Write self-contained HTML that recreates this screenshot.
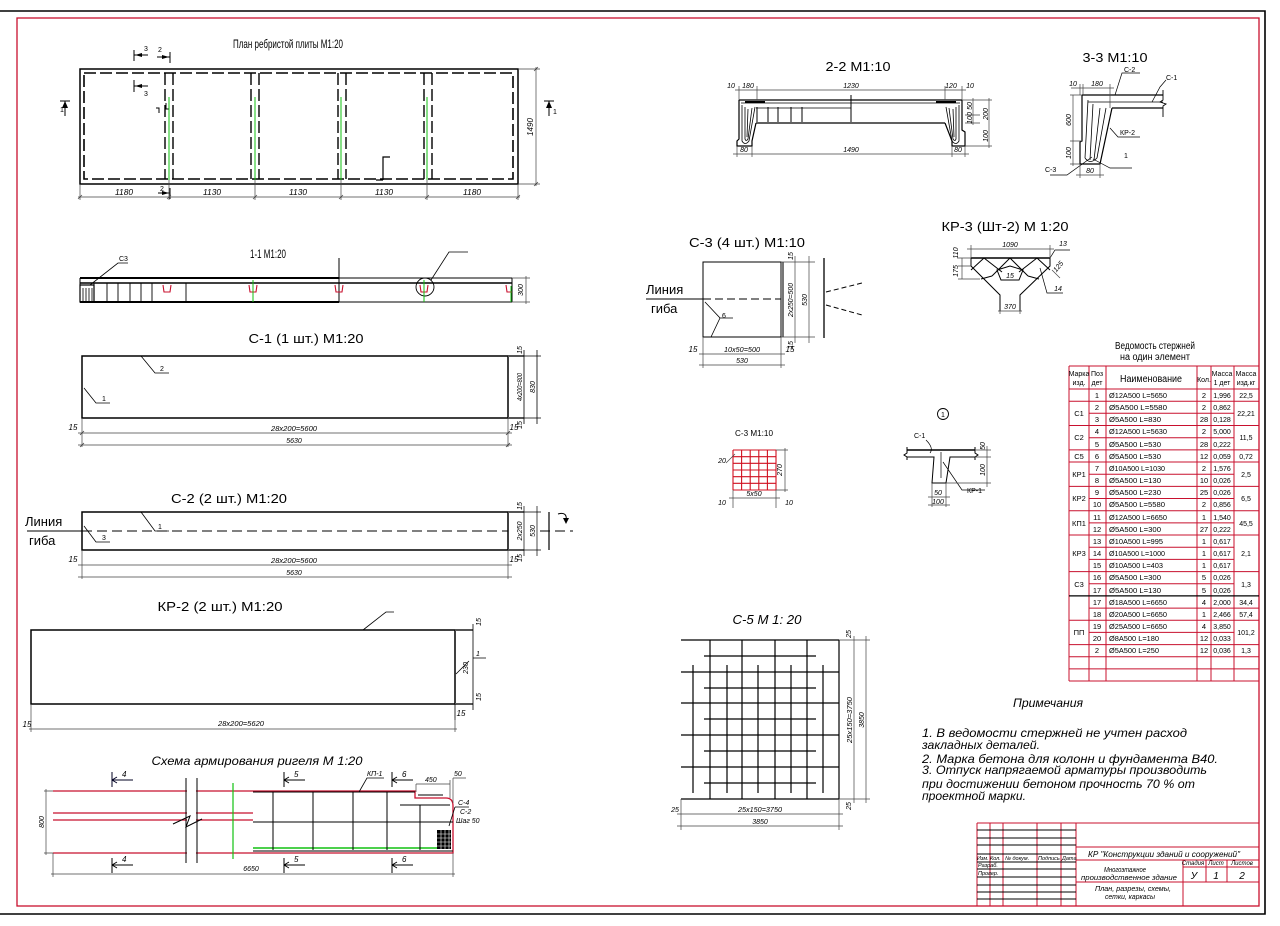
<!DOCTYPE html>
<html><head><meta charset="utf-8"><style>
html,body{margin:0;padding:0;background:#fff;}
svg{display:block}
text{font-family:"Liberation Sans","DejaVu Sans",sans-serif;fill:#000}
.i{font-style:italic}
</style></head><body>
<svg width="1280" height="926" viewBox="0 0 1280 926" xmlns="http://www.w3.org/2000/svg">
<rect width="1280" height="926" fill="#fff"/>
<!-- frames -->
<path d="M0 11H1265V914H0" stroke="#000" stroke-width="1.6" fill="none"/>
<rect x="17" y="18" width="1242" height="888" stroke="#c8102e" stroke-width="1.3" fill="none"/>

<!-- ===== PLAN ===== -->
<text x="288" y="48" font-size="12" text-anchor="middle" textLength="110" lengthAdjust="spacingAndGlyphs">План ребристой плиты М1:20</text>
<g stroke="#000" fill="none">
<rect x="80" y="69" width="438" height="115" stroke-width="1.5"/>
<rect x="84" y="73" width="429" height="106" stroke-width="1.6" stroke-dasharray="12,4"/>
<path d="M165 73V179M173 73V179M251 73V179M259 73V179M338 73V179M346 73V179M424 73V179M432 73V179" stroke-width="1.4" stroke-dasharray="12,4"/>
<path d="M156 108H159V113M166 103V109H169" stroke-width="1"/>
<path d="M383 180V157H390M376 180H383" stroke-width="1.2"/>
<!-- section marks -->
<path d="M60 101H70M65 101V116M544 101H554M549 101V116" stroke-width="1"/>
<path d="M134 50V61M134 55H148M170 52V63M157 57H170M134 80V92M134 86H148M170 188V199M158 193H170" stroke-width="1"/>
</g>
<g fill="#000">
<path d="M65 101L62 108H68Z"/><path d="M549 101L546 108H552Z"/>
<path d="M135 55L142 53V57Z"/><path d="M169 57L162 55V59Z"/><path d="M135 86L142 84V88Z"/><path d="M169 193L162 191V195Z"/>
</g>
<g font-size="7"><text x="60" y="112">1</text><text x="553" y="114">1</text><text x="144" y="51">3</text><text x="158" y="52">2</text><text x="144" y="96">3</text><text x="160" y="191">2</text></g>
<path d="M169 97V180M255 97V180M341 97V180M427 97V180" stroke="#10c010" stroke-width="1"/>
<g stroke="#444" stroke-width="0.7" fill="none">
<path d="M80 184V200M169 180V200M255 180V200M341 180V200M427 180V200M518 184V200M78 197H520"/>
<path d="M78 199L82 195M167 199L171 195M253 199L257 195M339 199L343 195M425 199L429 195M516 199L520 195"/>
<path d="M518 69H540M518 184H540M536 67V186M534 71L538 67M534 186L538 182"/>
</g>
<g font-size="8" class="i" text-anchor="middle">
<text x="124" y="195" textLength="18" lengthAdjust="spacingAndGlyphs">1180</text>
<text x="212" y="195" textLength="18" lengthAdjust="spacingAndGlyphs">1130</text>
<text x="298" y="195" textLength="18" lengthAdjust="spacingAndGlyphs">1130</text>
<text x="384" y="195" textLength="18" lengthAdjust="spacingAndGlyphs">1130</text>
<text x="472" y="195" textLength="18" lengthAdjust="spacingAndGlyphs">1180</text>
<text transform="translate(533,127) rotate(-90)">1490</text>
</g>

<!-- ===== SECTION 1-1 ===== -->
<text x="268" y="258" font-size="12" text-anchor="middle" textLength="36" lengthAdjust="spacingAndGlyphs">1-1 М1:20</text>
<g stroke="#000" fill="none">
<path d="M80 278H339M80 302H339" stroke-width="2"/>
<path d="M339 278H512M339 302H512" stroke-width="1"/>
<path d="M80 283H512" stroke-width="1.5"/>
<path d="M80 278V302M512 278V302M339 258V302" stroke-width="1"/>
<path d="M94 283V302M107 283V302M118 283V302M130 283V302M141 283V302M152 283V302M186 283V302" stroke-width="0.9"/>
<rect x="80" y="285" width="14" height="17" stroke-width="1.2"/>
<path d="M83 288V302M86 288V302M89 288V302M92 288V302" stroke-width="0.8"/>
<circle cx="425" cy="287" r="9" stroke-width="0.9"/>
<path d="M431 280L449 252H468M90 285L118 263H128" stroke-width="0.8"/>
</g>
<g stroke="#c8102e" fill="none" stroke-width="1.1">
<path d="M163 285L164 292H170L171 285M249 285L250 292H256L257 285M335 285L336 292H342L343 285M420 285L421 292H427L428 285M506 285L507 292H512"/>
</g>
<path d="M253 280V302M424 280V302M511 286V302" stroke="#10c010" stroke-width="1"/>
<g stroke="#444" stroke-width="0.7" fill="none"><path d="M512 278H530M512 302H530M526 276V304"/></g>
<text x="119" y="261" font-size="7">С3</text>
<text transform="translate(523,290) rotate(-90)" font-size="7" text-anchor="middle" class="i">300</text>

<!-- ===== C-1 ===== -->
<text x="306" y="343" font-size="13" text-anchor="middle" textLength="115" lengthAdjust="spacingAndGlyphs">С-1 (1 шт.) М1:20</text>
<rect x="82" y="356" width="426" height="62" stroke="#000" stroke-width="1.5" fill="none"/>
<g stroke="#000" fill="none" stroke-width="0.8">
<path d="M508 356H524M508 418H524" stroke-width="2" stroke="#555"/>
<path d="M524 356H541M524 418H541M524 350V424M537 350V424"/>
<path d="M141 356L155 373H169M84 388L96 403H110"/>
<path d="M82 418V447M508 418V447M78 433H512M78 445H512" stroke="#444" stroke-width="0.7"/>
<path d="M80 435L84 431M506 435L510 431M80 447L84 443M506 447L510 443" stroke="#444"/>
</g>
<g font-size="7"><text x="160" y="371">2</text><text x="102" y="401">1</text></g>
<g font-size="7" class="i" text-anchor="middle">
<text transform="translate(522,350) rotate(-90)">15</text>
<text transform="translate(522,387) rotate(-90)" textLength="28" lengthAdjust="spacingAndGlyphs">4x200=800</text>
<text transform="translate(535,387) rotate(-90)">830</text>
<text transform="translate(522,425) rotate(-90)">15</text>
<text x="73" y="430" font-size="8">15</text>
<text x="514" y="430" font-size="8">15</text>
<text x="294" y="431" textLength="46" lengthAdjust="spacingAndGlyphs">28x200=5600</text>
<text x="294" y="443">5630</text>
</g>

<!-- ===== C-2 ===== -->
<text x="229" y="503" font-size="13" text-anchor="middle" textLength="116" lengthAdjust="spacingAndGlyphs">С-2 (2 шт.) М1:20</text>
<rect x="82" y="512" width="426" height="38" stroke="#000" stroke-width="1.5" fill="none"/>
<g stroke="#000" fill="none" stroke-width="0.9">
<path d="M27 531H82"/>
<path d="M82 531H508M540 531H573" stroke-dasharray="10,5"/>
<path d="M508 512H524M508 550H524" stroke-width="2" stroke="#555"/>
<path d="M524 512H541M524 550H541M524 506V556M537 506V556" stroke-width="0.7"/>
<path d="M549 512V550" stroke-width="1.2"/>
<path d="M558 514Q568 511 566 522" stroke-width="1"/>
<path d="M141 512L155 531H169M84 526L96 542H110" stroke-width="0.8"/>
<path d="M82 550V579M508 550V579M78 565H512M78 577H512" stroke="#444" stroke-width="0.7"/>
</g>
<path d="M566 524L563 518H569Z" fill="#000"/>
<text x="25" y="526" font-size="13">Линия</text>
<text x="29" y="545" font-size="13">гиба</text>
<g font-size="7"><text x="158" y="529">1</text><text x="102" y="540">3</text></g>
<g font-size="7" class="i" text-anchor="middle">
<text transform="translate(522,506) rotate(-90)">15</text>
<text transform="translate(522,531) rotate(-90)">2x250</text>
<text transform="translate(535,531) rotate(-90)">530</text>
<text transform="translate(522,558) rotate(-90)">15</text>
<text x="73" y="562" font-size="8">15</text>
<text x="514" y="562" font-size="8">15</text>
<text x="294" y="563" textLength="46" lengthAdjust="spacingAndGlyphs">28x200=5600</text>
<text x="294" y="575">5630</text>
</g>

<!-- ===== KP-2 ===== -->
<text x="220" y="611" font-size="13" text-anchor="middle" textLength="125" lengthAdjust="spacingAndGlyphs">КР-2 (2 шт.) М1:20</text>
<rect x="31" y="630" width="424" height="74" stroke="#000" stroke-width="1.5" fill="none"/>
<g stroke="#000" fill="none" stroke-width="0.8">
<path d="M455 630H473M455 704H473" stroke-width="2" stroke="#555"/>
<path d="M473 624V710M455 704V720"/>
<path d="M363 630L386 612H394M473 658H486M456 674L469 661"/>
<path d="M31 704V732M455 718V732M29 729H457" stroke="#444" stroke-width="0.7"/>
</g>
<g font-size="7" class="i" text-anchor="middle">
<text transform="translate(481,622) rotate(-90)">15</text>
<text transform="translate(468,668) rotate(-90)">230</text>
<text transform="translate(481,697) rotate(-90)">15</text>
<text x="478" y="656">1</text>
<text x="461" y="716" font-size="8">15</text>
<text x="27" y="727" font-size="8">15</text>
<text x="241" y="726" textLength="46" lengthAdjust="spacingAndGlyphs">28x200=5620</text>
</g>

<!-- ===== SCHEMA ===== -->
<text x="257" y="765" font-size="12" class="i" text-anchor="middle" textLength="211" lengthAdjust="spacingAndGlyphs">Схема армирования ригеля М 1:20</text>
<g fill="none">
<path d="M53 791H415V798H446Q453 798 453 806V853H53" stroke="#c8102e" stroke-width="1.3"/>
<path d="M53 813H253M53 820H253" stroke="#c8102e" stroke-width="1.3"/>
<path d="M253 792H415M253 822H453M253 851H453M418 795H443M400 805H450" stroke="#000" stroke-width="1"/>
<path d="M253 848H447" stroke="#10c010" stroke-width="1.4"/>
<path d="M273 792V850M313 792V850M353 792V850M387 792V850M420 805V850" stroke="#000" stroke-width="1"/>
<path d="M233 783V859" stroke="#10c010" stroke-width="1.2"/>
<rect x="187" y="776" width="9" height="89" fill="#fff" stroke="none"/>
<path d="M186 778V863M197 778V863M173 824L190 816L186 827L202 819" stroke="#000" stroke-width="1"/>
</g>
<rect x="437" y="830" width="14" height="19" fill="#000"/>
<path d="M437 834H451M437 838H451M437 842H451M437 846H451M441 830V849M445 830V849M449 830V849" stroke="#fff" stroke-width="0.6"/>
<g stroke="#000" fill="none" stroke-width="1">
<path d="M112 772V787M112 780H133M112 780L117 777M112 780L117 783" stroke="#002"/>
<path d="M112 858V873M112 865H133M112 865L117 862M112 865L117 868"/>
<path d="M284 772V787M284 780H305M284 780L289 777M284 780L289 783"/>
<path d="M284 858V873M284 865H305M284 865L289 862M284 865L289 868"/>
<path d="M392 772V787M392 780H413M392 780L397 777M392 780L397 783"/>
<path d="M392 858V873M392 865H413M392 865L397 862M392 865L397 868"/>
<path d="M359 792L367 778H384M455 807H469M449 826L455 807" stroke-width="0.8"/>
<path d="M416 784H450M416 784V792M450 780V798M453 778H466M453 778V803" stroke="#444" stroke-width="0.7"/>
<path d="M44 791H53M44 853H53M46 789V855M53 853V877M453 853V877M51 874H455" stroke="#444" stroke-width="0.7"/>
</g>
<g font-size="8" class="i">
<text x="122" y="777">4</text><text x="122" y="862">4</text>
<text x="294" y="777">5</text><text x="294" y="862">5</text>
<text x="402" y="777">6</text><text x="402" y="862">6</text>
<text x="367" y="776" font-size="7">КП-1</text>
<text x="425" y="782" font-size="7">450</text>
<text x="454" y="776" font-size="7">50</text>
<text x="458" y="805" font-size="7">С-4</text>
<text x="460" y="814" font-size="7">С-2</text>
<text x="456" y="823" font-size="7">Шаг 50</text>
<text x="251" y="871" font-size="7" text-anchor="middle">6650</text>
<text transform="translate(44,822) rotate(-90)" font-size="7" text-anchor="middle">800</text>
</g>

<!-- ===== 2-2 ===== -->
<text x="858" y="71" font-size="13" text-anchor="middle" textLength="65" lengthAdjust="spacingAndGlyphs">2-2 М1:10</text>
<g stroke="#000" fill="none" stroke-width="1.2">
<path d="M739 100H962"/>
<path d="M741 103H960M756 108H851" stroke-width="0.8"/>
<path d="M756 123H945"/>
<path d="M739 100V139L737 141V146H752V141L756 123"/>
<path d="M962 100V130L965 132V146H952V141L945 123"/>
<path d="M745 102H765M936 102H956" stroke-width="2"/>
<path d="M742 105V141Q745 146 749 141L755 107M745 107V139Q746 142 748 139L752 108M748 109L747 137" stroke-width="0.8"/>
<path d="M959 105V141Q956 146 952 141L946 107M956 107V139Q955 142 953 139L949 108M953 109L954 137" stroke-width="0.8"/>
<path d="M757 107V122M768 107V122M778 107V122M791 107V122M802 107V122M851 95V122" stroke-width="1"/>
</g>
<g stroke="#444" stroke-width="0.7" fill="none">
<path d="M735 90H966M739 86V100M757 86V100M945 86V100M962 86V100"/>
<path d="M962 100H992M965 123H980M965 115H980M965 146H992M973 98V125M989 98V148"/>
<path d="M737 146V157M752 146V157M952 146V157M965 146V157M733 154H969"/>
</g>
<g font-size="7" class="i" text-anchor="middle">
<text x="731" y="88">10</text><text x="748" y="88">180</text><text x="851" y="88">1230</text><text x="951" y="88">120</text><text x="970" y="88">10</text>
<text transform="translate(972,106) rotate(-90)">50</text>
<text transform="translate(972,118) rotate(-90)">100</text>
<text transform="translate(988,114) rotate(-90)">200</text>
<text transform="translate(988,136) rotate(-90)">100</text>
<text x="744" y="152">80</text><text x="851" y="152">1490</text><text x="958" y="152">80</text>
</g>

<!-- ===== 3-3 ===== -->
<text x="1115" y="62" font-size="13" text-anchor="middle" textLength="65" lengthAdjust="spacingAndGlyphs">3-3 М1:10</text>
<g stroke="#000" fill="none" stroke-width="1.2">
<path d="M1082 95H1163M1112 108H1163"/>
<path d="M1088 102H1163" stroke-width="0.8"/>
<path d="M1082 95V141L1080 142V164H1100L1112 108"/>
<path d="M1163 90V100L1160 102L1166 104L1163 106V117" stroke-width="0.9"/>
<path d="M1088 100L1085 158M1093 104L1090 160M1100 108L1094 160M1106 108L1097 158M1085 158Q1090 165 1097 158" stroke-width="0.8"/>
<path d="M1115 95L1122 73H1140M1152 102L1160 87L1166 80M1110 128L1118 137H1140M1092 157L1067 175H1050M1093 159L1110 168H1132" stroke-width="0.7"/>
</g>
<g stroke="#444" stroke-width="0.7" fill="none">
<path d="M1071 88H1114M1080 84V95M1083 84V95M1110 84V108M1073 95V166M1070 95H1082M1070 141H1082M1070 164H1080M1080 164V178M1100 164V178M1076 175H1104"/>
</g>
<g font-size="7">
<text x="1124" y="72">С-2</text><text x="1166" y="80">С-1</text><text x="1120" y="135">КР-2</text><text x="1045" y="172">С-3</text><text x="1124" y="158">1</text>
</g>
<g font-size="7" class="i" text-anchor="middle">
<text x="1073" y="86">10</text><text x="1097" y="86">180</text>
<text transform="translate(1071,120) rotate(-90)">600</text>
<text transform="translate(1071,153) rotate(-90)">100</text>
<text x="1090" y="173">80</text>
</g>

<!-- ===== KP-3 ===== -->
<text x="1005" y="231" font-size="13" text-anchor="middle" textLength="127" lengthAdjust="spacingAndGlyphs">КР-3 (Шт-2) М 1:20</text>
<g stroke="#000" fill="none" stroke-width="1">
<path d="M971 258H1050" stroke-width="1.6"/>
<path d="M971 258V266L1000 295V311M1050 258V266L1020 295V311"/>
<path d="M984 258L971 270M984 258L1002 272M1010 258L992 276M1010 258L1028 276M1037 258L1019 272M1037 258L1050 270M981 279L992 276M1039 279L1028 276"/>
<path d="M997 270L1010 266L1023 270L1019 280H1001Z"/>
<path d="M1050 258L1055 250H1070M1040 268L1047 293H1063" stroke-width="0.7"/>
</g>
<g stroke="#444" stroke-width="0.7" fill="none">
<path d="M967 249H1054M971 245V258M1050 245V258M962 258V279M958 258H971M958 266H971M958 279H980M1000 311V314M1020 311V314M998 311H1022M1052 270L1060 278"/>
</g>
<g font-size="7" class="i" text-anchor="middle">
<text x="1010" y="247">1090</text><text x="1063" y="246">13</text><text x="1058" y="291">14</text>
<text x="1010" y="278">15</text><text x="1010" y="309">370</text>
<text transform="translate(958,253) rotate(-90)">110</text>
<text transform="translate(958,271) rotate(-90)">175</text>
<text transform="translate(1060,268) rotate(-50)">125</text>
</g>

<!-- ===== C-3 ===== -->
<text x="747" y="247" font-size="13" text-anchor="middle" textLength="116" lengthAdjust="spacingAndGlyphs">С-3 (4 шт.) М1:10</text>
<g stroke="#000" fill="none" stroke-width="1">
<path d="M703 262H781V337H703Z"/>
<path d="M783 262V337" stroke-width="1.6" stroke="#555"/>
<path d="M646 299H703"/>
<path d="M703 299H781" stroke-dasharray="8,4"/>
<path d="M705 302L720 318L711 337M720 318H733" stroke-width="0.8"/>
<path d="M824 258V338" stroke-width="1.3"/>
<path d="M826 292L862 283M826 305L862 315" stroke-dasharray="5,3"/>
</g>
<g stroke="#444" stroke-width="0.7" fill="none">
<path d="M781 262H815M781 337H815M795 256V343M809 256V343"/>
<path d="M703 337V368M781 337V368M699 354H785M699 365H785"/>
</g>
<text x="646" y="294" font-size="13">Линия</text>
<text x="651" y="313" font-size="13">гиба</text>
<text x="722" y="318" font-size="7">6</text>
<g font-size="7" class="i" text-anchor="middle">
<text transform="translate(793,256) rotate(-90)">15</text>
<text transform="translate(793,300) rotate(-90)" textLength="34" lengthAdjust="spacingAndGlyphs">2x250=500</text>
<text transform="translate(807,300) rotate(-90)">530</text>
<text transform="translate(793,345) rotate(-90)">15</text>
<text x="693" y="352" font-size="8">15</text>
<text x="742" y="352" textLength="36" lengthAdjust="spacingAndGlyphs">10x50=500</text>
<text x="790" y="352" font-size="8">15</text>
<text x="742" y="363">530</text>
</g>

<!-- ===== small mesh ===== -->
<text x="754" y="436" font-size="8" text-anchor="middle" textLength="38" lengthAdjust="spacingAndGlyphs">С-3 М1:10</text>
<g stroke="#d01020" stroke-width="1.1" fill="none">
<path d="M733 450V490M741.6 450V490M750.2 450V490M758.8 450V490M767.4 450V490M776 450V490"/>
<path d="M733 450H776M733 456.7H776M733 463.3H776M733 470H776M733 476.7H776M733 483.3H776M733 490H776"/>
</g>
<g stroke="#444" stroke-width="0.7" fill="none">
<path d="M726 463L735 454M776 450H788M776 490H788M785 448V492M733 490V505M776 490V505M729 498H780M733 505V508M776 505V508"/>
</g>
<g font-size="7" class="i" text-anchor="middle">
<text x="722" y="463">20</text>
<text transform="translate(782,470) rotate(-90)">270</text>
<text x="754" y="496">5x50</text>
<text x="722" y="505">10</text><text x="789" y="505">10</text>
</g>

<!-- ===== detail 1 ===== -->
<circle cx="943" cy="414" r="5.5" stroke="#000" fill="none" stroke-width="0.9"/>
<text x="943" y="417" font-size="7" text-anchor="middle">1</text>
<g stroke="#000" fill="none" stroke-width="1">
<path d="M907 450H975" stroke-width="1.6"/>
<path d="M907 457H934L932 483H946L950 457H975"/>
<path d="M907 447V453L904 455L907 457V460M975 447V453L978 455L975 457V460"/>
<path d="M941 452V478M930 453Q934 448 926 440M943 462L962 490H985" stroke-width="0.7"/>
</g>
<g stroke="#444" stroke-width="0.7" fill="none">
<path d="M975 450H991M975 457H991M946 483H991M987 446V487M932 483V507M946 483V507M928 497H950M928 505H950"/>
</g>
<g font-size="7">
<text x="914" y="438">С-1</text><text x="967" y="493">КР-1</text>
</g>
<g font-size="7" class="i" text-anchor="middle">
<text transform="translate(985,446) rotate(-90)">50</text>
<text transform="translate(985,470) rotate(-90)">100</text>
<text x="938" y="495">50</text><text x="938" y="504">100</text>
</g>

<!-- ===== C-5 ===== -->
<text x="767" y="624" font-size="13" class="i" text-anchor="middle" textLength="69" lengthAdjust="spacingAndGlyphs">С-5 М 1: 20</text>
<g stroke="#000" stroke-width="1.2" fill="none">
<path d="M681 640H839M681 672H839M681 703H839M681 735H839M681 767H839M681 799H839"/>
<path d="M704 656H816M704 688H816M704 719H816M704 751H816M704 783H816"/>
<path d="M710 640V799M742 640V799M775 640V799M807 640V799M839 640V799"/>
<path d="M693 665V793M727 665V793M758 665V793M791 665V793M823 665V793"/>
</g>
<g stroke="#444" stroke-width="0.7" fill="none">
<path d="M839 640H870M839 799H870M854 636V803M866 636V803M681 799V830M839 799V830M677 814H843M677 826H843"/>
</g>
<g font-size="7" class="i" text-anchor="middle">
<text transform="translate(852,720) rotate(-90)" textLength="46" lengthAdjust="spacingAndGlyphs">25x150=3750</text>
<text transform="translate(864,720) rotate(-90)">3850</text>
<text transform="translate(851,634) rotate(-90)">25</text>
<text transform="translate(851,806) rotate(-90)">25</text>
<text x="675" y="812">25</text>
<text x="760" y="812" textLength="44" lengthAdjust="spacingAndGlyphs">25x150=3750</text>
<text x="760" y="824">3850</text>
</g>

<!-- ===== table ===== -->
<text x="1155" y="349" font-size="10" text-anchor="middle" textLength="80" lengthAdjust="spacingAndGlyphs">Ведомость стержней</text>
<text x="1155" y="360" font-size="10" text-anchor="middle" textLength="70" lengthAdjust="spacingAndGlyphs">на один элемент</text>
<g stroke="#c8102e" stroke-width="1" fill="none">
<path d="M1069 366H1259M1069 366V681M1089 366V681M1106 366V681M1197 366V681M1211 366V681M1234 366V681M1259 366V681"/>
<path d="M1069 389H1259M1069 401.2H1259M1089 413.3H1234M1069 425.5H1259M1089 437.7H1234M1069 449.9H1259M1069 462H1259M1089 474.2H1234M1069 486.4H1259M1089 498.5H1234M1069 510.7H1259M1089 522.9H1234M1069 535H1259M1089 547.2H1234M1089 559.4H1234M1069 571.6H1259M1089 583.7H1234M1089 608.1H1259M1069 620.2H1259M1089 632.4H1234M1069 644.6H1259M1069 656.7H1259M1069 668.9H1259M1069 681H1259"/>
</g>
<path d="M1069 595.9H1259" stroke="#000" stroke-width="1.2"/>
<g font-size="7" text-anchor="middle">
<text x="1079" y="376">Марка</text><text x="1079" y="385">изд.</text>
<text x="1097" y="376">Поз</text><text x="1097" y="385">дет</text>
<text x="1151" y="382" font-size="10" textLength="62" lengthAdjust="spacingAndGlyphs">Наименование</text>
<text x="1204" y="382">Кол.</text>
<text x="1222" y="376">Масса</text><text x="1222" y="385">1 дет</text>
<text x="1246" y="376">Масса</text><text x="1246" y="385">изд.кг</text>
</g>
<g font-size="7.5" text-anchor="middle">
<text x="1079" y="416">С1</text><text x="1079" y="440">С2</text><text x="1079" y="459">С5</text>
<text x="1079" y="477">КР1</text><text x="1079" y="501">КР2</text><text x="1079" y="526">КП1</text>
<text x="1079" y="556">КР3</text><text x="1079" y="587">С3</text><text x="1079" y="635">ПП</text>
</g>
<g font-size="7.5" text-anchor="middle">
<text x="1097" y="398">1</text><text x="1097" y="410">2</text><text x="1097" y="422">3</text><text x="1097" y="434">4</text><text x="1097" y="447">5</text><text x="1097" y="459">6</text><text x="1097" y="471">7</text><text x="1097" y="483">8</text><text x="1097" y="495">9</text><text x="1097" y="507">10</text><text x="1097" y="520">11</text><text x="1097" y="532">12</text><text x="1097" y="544">13</text><text x="1097" y="556">14</text><text x="1097" y="568">15</text><text x="1097" y="580">16</text><text x="1097" y="593">17</text><text x="1097" y="605">17</text><text x="1097" y="617">18</text><text x="1097" y="629">19</text><text x="1097" y="641">20</text><text x="1097" y="653">2</text>
</g>
<g font-size="7.5">
<text x="1109" y="398" textLength="58" lengthAdjust="spacingAndGlyphs">Ø12A500 L=5650</text>
<text x="1109" y="410" textLength="58" lengthAdjust="spacingAndGlyphs">Ø5A500 L=5580</text>
<text x="1109" y="422" textLength="52" lengthAdjust="spacingAndGlyphs">Ø5A500 L=830</text>
<text x="1109" y="434" textLength="58" lengthAdjust="spacingAndGlyphs">Ø12A500 L=5630</text>
<text x="1109" y="447" textLength="52" lengthAdjust="spacingAndGlyphs">Ø5A500 L=530</text>
<text x="1109" y="459" textLength="52" lengthAdjust="spacingAndGlyphs">Ø5A500 L=530</text>
<text x="1109" y="471" textLength="56" lengthAdjust="spacingAndGlyphs">Ø10A500 L=1030</text>
<text x="1109" y="483" textLength="52" lengthAdjust="spacingAndGlyphs">Ø5A500 L=130</text>
<text x="1109" y="495" textLength="52" lengthAdjust="spacingAndGlyphs">Ø5A500 L=230</text>
<text x="1109" y="507" textLength="56" lengthAdjust="spacingAndGlyphs">Ø5A500 L=5580</text>
<text x="1109" y="520" textLength="58" lengthAdjust="spacingAndGlyphs">Ø12A500 L=6650</text>
<text x="1109" y="532" textLength="52" lengthAdjust="spacingAndGlyphs">Ø5A500 L=300</text>
<text x="1109" y="544" textLength="54" lengthAdjust="spacingAndGlyphs">Ø10A500 L=995</text>
<text x="1109" y="556" textLength="56" lengthAdjust="spacingAndGlyphs">Ø10A500 L=1000</text>
<text x="1109" y="568" textLength="54" lengthAdjust="spacingAndGlyphs">Ø10A500 L=403</text>
<text x="1109" y="580" textLength="52" lengthAdjust="spacingAndGlyphs">Ø5A500 L=300</text>
<text x="1109" y="593" textLength="52" lengthAdjust="spacingAndGlyphs">Ø5A500 L=130</text>
<text x="1109" y="605" textLength="58" lengthAdjust="spacingAndGlyphs">Ø18A500 L=6650</text>
<text x="1109" y="617" textLength="58" lengthAdjust="spacingAndGlyphs">Ø20A500 L=6650</text>
<text x="1109" y="629" textLength="58" lengthAdjust="spacingAndGlyphs">Ø25A500 L=6650</text>
<text x="1109" y="641" textLength="50" lengthAdjust="spacingAndGlyphs">Ø8A500 L=180</text>
<text x="1109" y="653" textLength="50" lengthAdjust="spacingAndGlyphs">Ø5A500 L=250</text>
</g>
<g font-size="7.5" text-anchor="middle">
<text x="1204" y="398">2</text><text x="1204" y="410">2</text><text x="1204" y="422">28</text><text x="1204" y="434">2</text><text x="1204" y="447">28</text><text x="1204" y="459">12</text><text x="1204" y="471">2</text><text x="1204" y="483">10</text><text x="1204" y="495">25</text><text x="1204" y="507">2</text><text x="1204" y="520">1</text><text x="1204" y="532">27</text><text x="1204" y="544">1</text><text x="1204" y="556">1</text><text x="1204" y="568">1</text><text x="1204" y="580">5</text><text x="1204" y="593">5</text><text x="1204" y="605">4</text><text x="1204" y="617">1</text><text x="1204" y="629">4</text><text x="1204" y="641">12</text><text x="1204" y="653">12</text>
</g>
<g font-size="7" text-anchor="middle">
<text x="1222" y="398">1,996</text><text x="1222" y="410">0,862</text><text x="1222" y="422">0,128</text><text x="1222" y="434">5,000</text><text x="1222" y="447">0,222</text><text x="1222" y="459">0,059</text><text x="1222" y="471">1,576</text><text x="1222" y="483">0,026</text><text x="1222" y="495">0,026</text><text x="1222" y="507">0,856</text><text x="1222" y="520">1,540</text><text x="1222" y="532">0,222</text><text x="1222" y="544">0,617</text><text x="1222" y="556">0,617</text><text x="1222" y="568">0,617</text><text x="1222" y="580">0,026</text><text x="1222" y="593">0,026</text><text x="1222" y="605">2,000</text><text x="1222" y="617">2,466</text><text x="1222" y="629">3,850</text><text x="1222" y="641">0,033</text><text x="1222" y="653">0,036</text>
</g>
<g font-size="7" text-anchor="middle">
<text x="1246" y="398">22,5</text><text x="1246" y="416">22,21</text><text x="1246" y="440">11,5</text><text x="1246" y="459">0,72</text><text x="1246" y="477">2,5</text><text x="1246" y="501">6,5</text><text x="1246" y="526">45,5</text><text x="1246" y="556">2,1</text><text x="1246" y="587">1,3</text><text x="1246" y="605">34,4</text><text x="1246" y="617">57,4</text><text x="1246" y="635">101,2</text><text x="1246" y="653">1,3</text>
</g>

<!-- ===== notes ===== -->
<text x="1048" y="707" font-size="12" class="i" text-anchor="middle" textLength="70" lengthAdjust="spacingAndGlyphs">Примечания</text>
<g font-size="12" class="i">
<text x="922" y="737" textLength="265" lengthAdjust="spacingAndGlyphs">1.  В ведомости стержней не учтен расход</text>
<text x="922" y="749" textLength="118" lengthAdjust="spacingAndGlyphs">закладных деталей.</text>
<text x="922" y="763" textLength="296" lengthAdjust="spacingAndGlyphs">2.  Марка бетона для колонн и фундамента В40.</text>
<text x="922" y="774" textLength="285" lengthAdjust="spacingAndGlyphs">3.  Отпуск напрягаемой арматуры производить</text>
<text x="922" y="788" textLength="273" lengthAdjust="spacingAndGlyphs">при достижении бетоном прочность 70 % от</text>
<text x="922" y="800" textLength="104" lengthAdjust="spacingAndGlyphs">проектной марки.</text>
</g>

<!-- ===== title block ===== -->
<g fill="none">
<path d="M977 823H1259M977 823V906M990 823V906M1003 823V906M1037 823V906M1061 823V906M1076 823V906" stroke="#c8102e" stroke-width="1"/>
<path d="M977 830H1076M977 838H1076M977 845H1076M977 854H1076M977 862H1076M977 869H1076M977 877H1076M977 885H1076M977 892H1076M977 899H1076" stroke="#000" stroke-width="0.9"/>
<path d="M1076 847H1259M1076 860H1259M1076 882H1259M1183 860V906M1206 860V882M1227 860V882M1183 867H1259" stroke="#c8102e" stroke-width="1"/>
</g>
<g font-size="5.5" class="i">
<text x="977" y="860">Изм.</text><text x="990" y="860">Кол.</text><text x="1005" y="860">№ докум.</text><text x="1038" y="860">Подпись</text><text x="1062" y="860">Дата</text>
<text x="978" y="867">Разраб.</text><text x="978" y="875">Провер.</text>
</g>
<g class="i" text-anchor="middle">
<text x="1164" y="857" font-size="8" textLength="152" lengthAdjust="spacingAndGlyphs">КР "Конструкции зданий и сооружений"</text>
<text x="1125" y="872" font-size="7" textLength="42" lengthAdjust="spacingAndGlyphs">Многоэтажное</text>
<text x="1129" y="880" font-size="7" textLength="96" lengthAdjust="spacingAndGlyphs">производственное здание</text>
<text x="1193" y="865" font-size="6">Стадия</text>
<text x="1216" y="865" font-size="6">Лист</text>
<text x="1242" y="865" font-size="6">Листов</text>
<text x="1194" y="879" font-size="10">У</text>
<text x="1216" y="879" font-size="10">1</text>
<text x="1242" y="879" font-size="10">2</text>
<text x="1133" y="891" font-size="7" textLength="76" lengthAdjust="spacingAndGlyphs">План, разрезы, схемы,</text>
<text x="1130" y="899" font-size="7" textLength="50" lengthAdjust="spacingAndGlyphs">сетки, каркасы</text>
</g>
</svg>
</body></html>
